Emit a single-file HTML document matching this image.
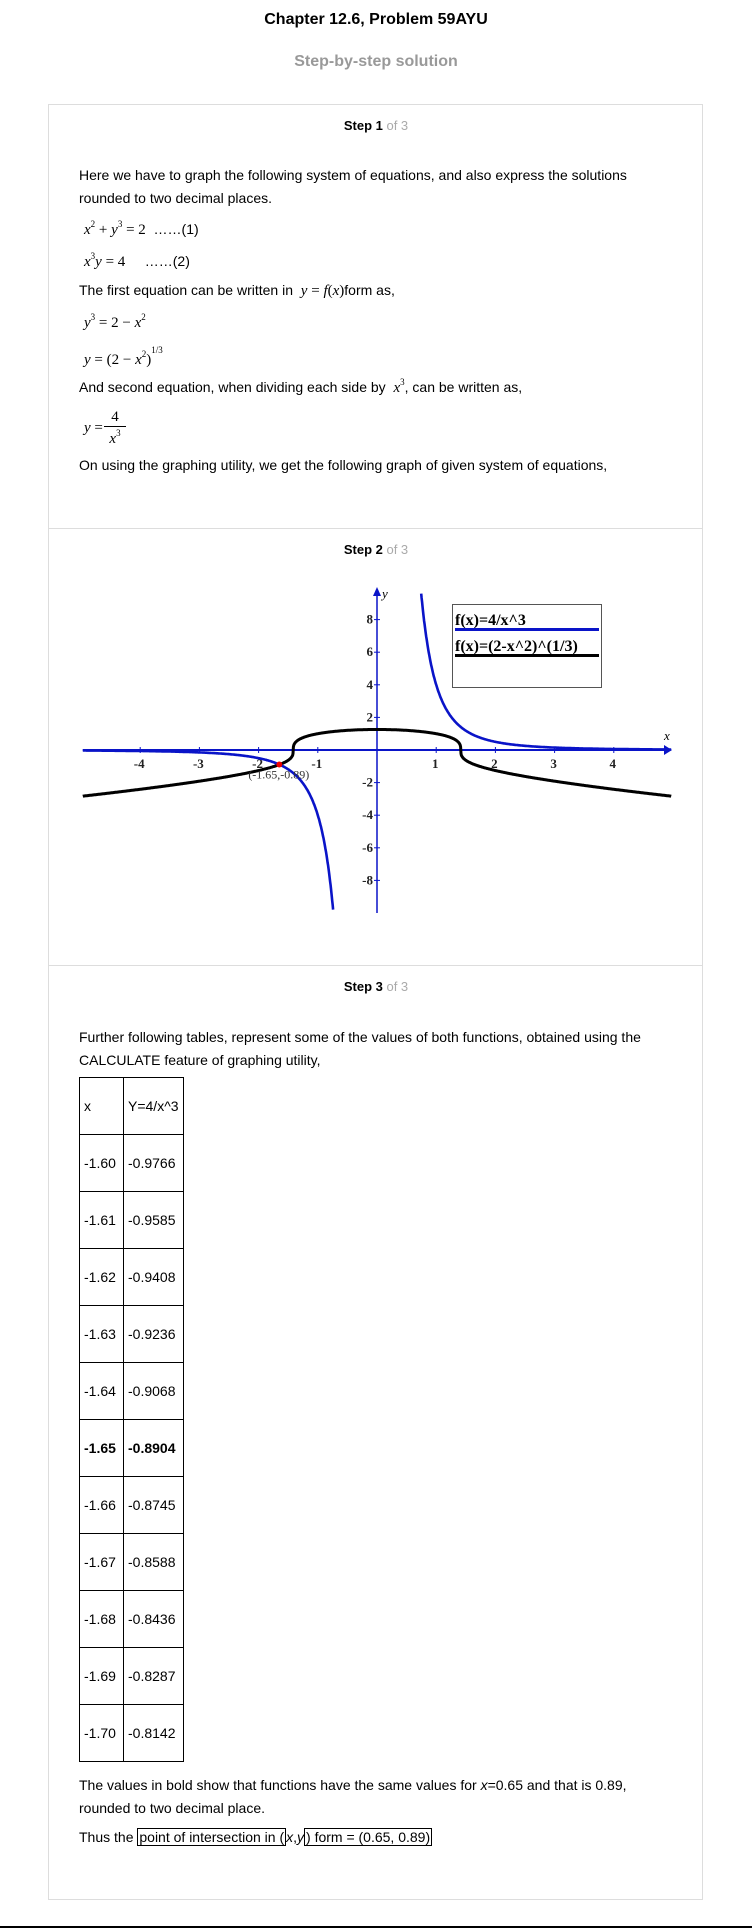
<!DOCTYPE html>
<html><head><meta charset="utf-8"><style>
body{margin:0;width:752px;height:1928px;position:relative;background:#fff;font-family:"Liberation Sans",Arial,sans-serif;color:#000;overflow:hidden}
.a{position:absolute;white-space:nowrap;font-size:14px;line-height:16px}
.m{font-family:"Liberation Serif",serif;font-size:15px}
.m i{font-style:italic}
sup{font-size:9px;vertical-align:7px;line-height:0}
.card{position:absolute;left:48px;top:104px;width:653px;height:1794px;border:1px solid #ddd}
.div{position:absolute;left:49px;width:653px;height:1px;background:#ddd}
.st{font-weight:bold;font-size:13px;width:752px;text-align:center;left:0}
.st span{color:#aaa;font-weight:normal}
table{position:absolute;left:79px;top:1077px;border-collapse:collapse;font-size:14px}
td{border:1.5px solid #000;height:56px;padding:0 4px;white-space:nowrap}
</style></head><body>
<div class="a" style="left:0;width:752px;text-align:center;top:12px;font-weight:bold;font-size:16px">Chapter 12.6, Problem 59AYU</div>
<div class="a" style="left:0;width:752px;text-align:center;top:54px;font-weight:bold;font-size:16px;color:#999">Step-by-step solution</div>
<div class="card"></div>
<div class="div" style="top:528px"></div>
<div class="div" style="top:965px"></div>

<div class="a st" style="top:118px">Step 1 <span>of 3</span></div>
<div class="a" style="left:79px;top:167px">Here we have to graph the following system of equations, and also express the solutions</div>
<div class="a" style="left:79px;top:190px">rounded to two decimal places.</div>
<div class="a" style="left:84px;top:221px"><span class="m"><i>x</i><sup>2</sup> + <i>y</i><sup>3</sup> = 2</span> &nbsp;……(1)</div>
<div class="a" style="left:84px;top:253px"><span class="m"><i>x</i><sup>3</sup><i>y</i> = 4</span> &nbsp; &nbsp; ……(2)</div>
<div class="a" style="left:79px;top:282px">The first equation can be written in &nbsp;<span class="m"><i>y</i> = <i>f</i>(<i>x</i>)</span>form as,</div>
<div class="a" style="left:84px;top:314px"><span class="m"><i>y</i><sup>3</sup> = 2 − <i>x</i><sup>2</sup></span></div>
<div class="a" style="left:84px;top:350px"><span class="m"><i>y</i> = (2 − <i>x</i><sup>2</sup>)<sup style="vertical-align:11px">1/3</sup></span></div>
<div class="a" style="left:79px;top:379px">And second equation, when dividing each side by &nbsp;<span class="m"><i>x</i><sup>3</sup></span>, can be written as,</div>
<div class="a m" style="left:84px;top:420px"><i>y</i> =</div>
<div class="a m" style="left:104px;top:408px;text-align:center;width:22px;border-bottom:1px solid #000;line-height:18px">4</div>
<div class="a m" style="left:104px;top:431px;text-align:center;width:22px"><i>x</i><sup>3</sup></div>
<div class="a" style="left:79px;top:457px">On using the graphing utility, we get the following graph of given system of equations,</div>

<div class="a st" style="top:542px">Step 2 <span>of 3</span></div>
<svg id="g" width="752" height="360" style="position:absolute;left:0;top:570px"></svg>

<div class="a st" style="top:979px">Step 3 <span>of 3</span></div>
<div class="a" style="left:79px;top:1029px">Further following tables, represent some of the values of both functions, obtained using the</div>
<div class="a" style="left:79px;top:1052px">CALCULATE feature of graphing utility,</div>
<table>
<tr><td style="width:35px">x</td><td>Y=4/x^3</td></tr>
<tr><td>-1.60</td><td>-0.9766</td></tr>
<tr><td>-1.61</td><td>-0.9585</td></tr>
<tr><td>-1.62</td><td>-0.9408</td></tr>
<tr><td>-1.63</td><td>-0.9236</td></tr>
<tr><td>-1.64</td><td>-0.9068</td></tr>
<tr style="font-weight:bold"><td>-1.65</td><td>-0.8904</td></tr>
<tr><td>-1.66</td><td>-0.8745</td></tr>
<tr><td>-1.67</td><td>-0.8588</td></tr>
<tr><td>-1.68</td><td>-0.8436</td></tr>
<tr><td>-1.69</td><td>-0.8287</td></tr>
<tr><td>-1.70</td><td>-0.8142</td></tr>
</table>
<div class="a" style="left:79px;top:1777px">The values in bold show that functions have the same values for <i>x</i>=0.65 and that is 0.89,</div>
<div class="a" style="left:79px;top:1800px">rounded to two decimal place.</div>
<div class="a" style="left:79px;top:1829px">Thus the <span style="border:1px solid #000;padding:0 1px">point of intersection in (</span><i>x</i>,<i>y</i><span style="border:1px solid #000;padding:0 1px">) form = (0.65, 0.89)</span></div>
<div style="position:absolute;left:0;top:1926px;width:752px;height:2px;background:#000"></div>

<script>
const xTicks=[-4,-3,-2,-1,1,2,3,4];
const yTicks=[8,6,4,2,-2,-4,-6,-8];
const intersection=[-1.65,-0.89];
const intersectionLabel="(-1.65,-0.89)";
const legendLabels=["f(x)=4/x^3","f(x)=(2-x^2)^(1/3)"];
const xDomain=[-4.97,4.97];
const yDomain=[-10,9.85];
const NS="http://www.w3.org/2000/svg";
const svg=document.getElementById('g');
const X=v=>377+v*59.2, Y=v=>180-v*16.3;
function el(t,a,p){const e=document.createElementNS(NS,t);for(const k in a)e.setAttribute(k,a[k]);(p||svg).appendChild(e);return e;}
const blue="#0a14c8";
let e;
e=el('line',{x1:X(xDomain[0]),x2:664,y1:Y(0),y2:Y(0),stroke:blue,'stroke-width':2});


e=el('path',{d:`M664,${Y(0)-5} L672,${Y(0)} L664,${Y(0)+5}Z`,fill:blue});


e=el('line',{x1:X(0),x2:X(0),y1:22,y2:343,stroke:blue,'stroke-width':1.5});


e=el('path',{d:`M${X(0)-4},26 L${X(0)},17 L${X(0)+4},26Z`,fill:blue});


e=el('text',{x:664,y:170,'font-family':'Liberation Serif','font-style':'italic','font-size':13});e.textContent='x';


e=el('text',{x:X(0)+5,y:28,'font-family':'Liberation Serif','font-style':'italic','font-size':13});e.textContent='y';


xTicks.forEach(t=>{
 e=el('line',{x1:X(t),x2:X(t),y1:Y(0)-3,y2:Y(0)+3,stroke:blue,'stroke-width':1});
 
 
 e=el('text',{x:X(t)-1,y:Y(0)+18,'text-anchor':'middle','font-family':'Liberation Serif','font-weight':'bold','font-size':13,fill:'#222'});e.textContent=t;
 
 
});
yTicks.forEach(t=>{
 e=el('line',{x1:X(0)-3,x2:X(0)+3,y1:Y(t),y2:Y(t),stroke:blue,'stroke-width':1});
 
 
 e=el('text',{x:X(0)-4,y:Y(t)+4,'text-anchor':'end','font-family':'Liberation Serif','font-weight':'bold','font-size':13,fill:'#222'});e.textContent=t;
 
 
});
const cbrt=v=>Math.sign(v)*Math.pow(Math.abs(v),1/3);
function curve(f,a,b,n){let d='';for(let i=0;i<=n;i++){const x=a+(b-a)*i/n;const y=f(x);if(y>yDomain[1]||y<yDomain[0])continue;d+=(d?'L':'M')+X(x).toFixed(1)+','+Y(y).toFixed(1);}return d;}
e=el('path',{d:curve(x=>cbrt(2-x*x),xDomain[0],xDomain[1],1500),fill:'none',stroke:'#000','stroke-width':3});


e=el('path',{d:curve(x=>4/(x*x*x),xDomain[0],-0.735,600),fill:'none',stroke:blue,'stroke-width':2.6});


e=el('path',{d:curve(x=>4/(x*x*x),0.74,xDomain[1],600),fill:'none',stroke:blue,'stroke-width':2.6});


e=el('circle',{cx:X(intersection[0]),cy:Y(intersection[1]),r:3,fill:'#e00'});


e=el('text',{x:X(intersection[0])-31,y:Y(intersection[1])+14,'font-family':'Liberation Serif','font-size':12,fill:'#333'});e.textContent=intersectionLabel;


e=el('rect',{x:452.5,y:34.5,width:149,height:83,fill:'#fff',stroke:'#555','stroke-width':1});


const lc=[blue,'#000'];
legendLabels.forEach((s,i)=>{
 e=el('text',{x:455,y:55+i*26,'font-family':'Liberation Serif','font-weight':'bold','font-size':16});e.textContent=s;
 
 
 e=el('line',{x1:455,x2:599,y1:59.5+i*26,y2:59.5+i*26,stroke:lc[i],'stroke-width':3});
 
 
});
</script>
</body></html>
